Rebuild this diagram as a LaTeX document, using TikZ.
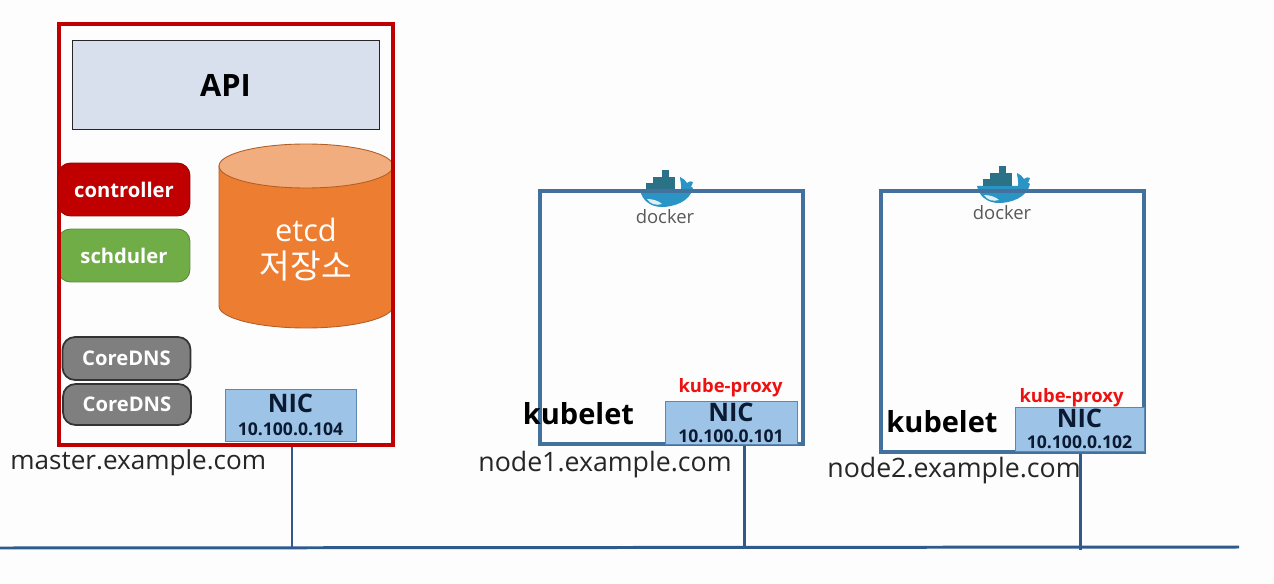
\documentclass[tikz,border=0pt]{standalone}
\usepackage{fontspec}
\setmainfont{Open Sans}
\newfontfamily\cjk{Noto Sans CJK KR}
\definecolor{pagewhite}{HTML}{FDFDFD}
\definecolor{framered}{HTML}{C00000}
\definecolor{apifill}{HTML}{D8E0EE}
\definecolor{etcdorange}{HTML}{ED7D31}
\definecolor{etcdtop}{HTML}{F1AD7E}
\definecolor{nodeblue}{HTML}{41719C}
\definecolor{busblue}{HTML}{2F5B8C}
\definecolor{nicfill}{HTML}{9DC3E6}
\definecolor{nicline}{HTML}{5B87B5}
\definecolor{greenbox}{HTML}{70AD47}
\definecolor{graybox}{HTML}{7F7F7F}
\definecolor{navytext}{HTML}{0A1A33}
\definecolor{whaleblue}{HTML}{2A94C4}
\definecolor{cratecol}{HTML}{2C7287}
\definecolor{proxyred}{HTML}{EE1111}
\tikzset{
  service/.style={rounded corners=2.5mm,minimum width=2.64cm,inner sep=0pt,text=white,font=\fontsize{11.5}{13}\selectfont\bfseries},
  dnsbox/.style={service,fill=graybox,draw=black!80,line width=1pt,minimum width=2.56cm},
  nicbox/.style={draw=nicline,fill=nicfill,line width=0.5pt,inner sep=0pt,text=navytext,align=center},
  hostname/.style={inner sep=0pt,font=\fontsize{15}{17}\selectfont,text=black!85},
  kubeletlabel/.style={inner sep=0pt,font=\fontsize{16.5}{19}\selectfont\bfseries},
  proxylabel/.style={inner sep=0pt,text=proxyred,font=\fontsize{10.5}{12}\selectfont\bfseries},
  wire/.style={draw=busblue,line width=1.7pt},
  hostframe/.style={draw=nodeblue,line width=1.8pt},
  dockerlogo/.pic={
    \fill[whaleblue] (-25,0) -- (18,0) .. controls (21,-4) and (26,-5) .. (28,-2)
      .. controls (25,12) and (8,17) .. (-3,17) .. controls (-15,17) and (-23,10) .. (-25,0) -- cycle;
    \fill[whaleblue] (16,1) .. controls (17,-5) and (15,-9) .. (15,-13) .. controls (18,-11) and (21,-10) .. (22,-7)
      .. controls (24,-9) and (26,-9) .. (28,-8) .. controls (27,-3) and (23,1) .. (16,1) -- cycle;
    \fill[white!85!whaleblue] (-18,9) .. controls (-12,9) and (-6,11) .. (-3,14) .. controls (-9,16) and (-15,14) .. (-18,9) -- cycle;
    \fill[cratecol] (-19,-7) rectangle (10,0);
    \fill[cratecol] (-12,-13) rectangle (10,-7);
    \fill[cratecol] (-3,-20) rectangle (4,-13);
    \node[inner sep=0pt,text=black!65,font=\fontsize{10.5}{13}\selectfont] (-label) at (0,27) {docker};
  }
}
\begin{document}
\begin{tikzpicture}[x=0.02cm,y=-0.02cm]
\fill[pagewhite] (0,0) rectangle (1274,584);
\useasboundingbox (0,0) rectangle (1274,584);

\node[service,fill=greenbox,draw=greenbox!80!black,line width=0.5pt,minimum height=1.06cm] (schduler) at (124,255.5) {schduler};

\draw[fill=etcdorange,draw=etcdorange!75!black,line width=0.5pt] (219,166) -- (219,306)
  arc[start angle=180,end angle=0,x radius=87,y radius=22] -- (393,166) -- cycle;
\draw[fill=etcdtop,draw=etcdorange!75!black,line width=0.5pt] (306,166) ellipse[x radius=87,y radius=22];
\node[inner sep=0pt,text=white,align=center,font=\fontsize{17.5}{21}\selectfont] (etcd) at (306,250) {etcd\\{\fontsize{19}{21}\selectfont\cjk 저장소}};

\node[draw=framered,line width=1.8pt,minimum width=6.68cm,minimum height=8.42cm,inner sep=0pt] (master) at (226,234.5) {};
\node[draw=black!85,fill=apifill,line width=0.5pt,minimum width=6.14cm,minimum height=1.78cm,inner sep=0pt,font=\fontsize{17.5}{20}\selectfont\bfseries] (api) at (225.5,85) {API};
\node[service,fill=framered,draw=framered!80!black,line width=0.5pt,minimum height=1.06cm] (controller) at (124,189.5) {controller};
\node[dnsbox,minimum height=0.86cm] (dnsa) at (126.5,358.5) {CoreDNS};
\node[dnsbox,minimum height=0.82cm] (dnsb) at (127,404.5) {CoreDNS};
\node[nicbox,minimum width=2.62cm,minimum height=1.04cm] (nicm) at (290.5,415) {{\fontsize{14.5}{16}\selectfont\bfseries NIC}\\[1pt]{\fontsize{10}{12}\selectfont\bfseries 10.100.0.104}};
\node[hostname,anchor=base west,font=\fontsize{14.85}{17}\selectfont] (mastername) at (10,469) {master.example.com};

\pic (dockera) at (665,190) {dockerlogo};
\node[hostframe,minimum width=5.26cm,minimum height=5.06cm,inner sep=0pt] (nodea) at (671.5,317.5) {};
\node[nicbox,minimum width=2.64cm,minimum height=0.86cm] (nica) at (731,422.5) {{\fontsize{14.5}{16}\selectfont\bfseries NIC}\\[0pt]{\fontsize{10}{12}\selectfont\bfseries 10.100.0.101}};
\node[proxylabel] (proxya) at (730.5,387.5) {kube-proxy};
\node[kubeletlabel] (kubeleta) at (578.5,414) {kubelet};
\node[hostname,anchor=base west,font=\fontsize{15.2}{17}\selectfont] (nameone) at (478,471) {node1.example.com};

\pic (dockerb) at (1002,186) {dockerlogo};
\node[hostframe,minimum width=5.26cm,minimum height=5.22cm,inner sep=0pt] (nodeb) at (1012.5,321.5) {};
\node[nicbox,minimum width=2.58cm,minimum height=0.88cm] (nicb) at (1079.5,429) {{\fontsize{14.5}{16}\selectfont\bfseries NIC}\\[0pt]{\fontsize{10}{12}\selectfont\bfseries 10.100.0.102}};
\node[proxylabel] (proxyb) at (1071.5,397.5) {kube-proxy};
\node[kubeletlabel] (kubeletb) at (942,422) {kubelet};
\node[hostname,anchor=base west,font=\fontsize{15.2}{17}\selectfont] (nametwo) at (827,477) {node2.example.com};

\coordinate (busstart) at (0,548);
\coordinate (busend) at (1239,547);
\coordinate (tapm) at (292,548);
\coordinate (tapa) at (744,548);
\coordinate (tapb) at (1080,550);
\draw[wire] (busstart) -- (busend);
\draw[wire] (master.south -| tapm) -- (tapm);
\draw[wire] (nodea.south -| tapa) -- (tapa);
\draw[wire] (nodeb.south -| tapb) -- (tapb);
\end{tikzpicture}
\end{document}
